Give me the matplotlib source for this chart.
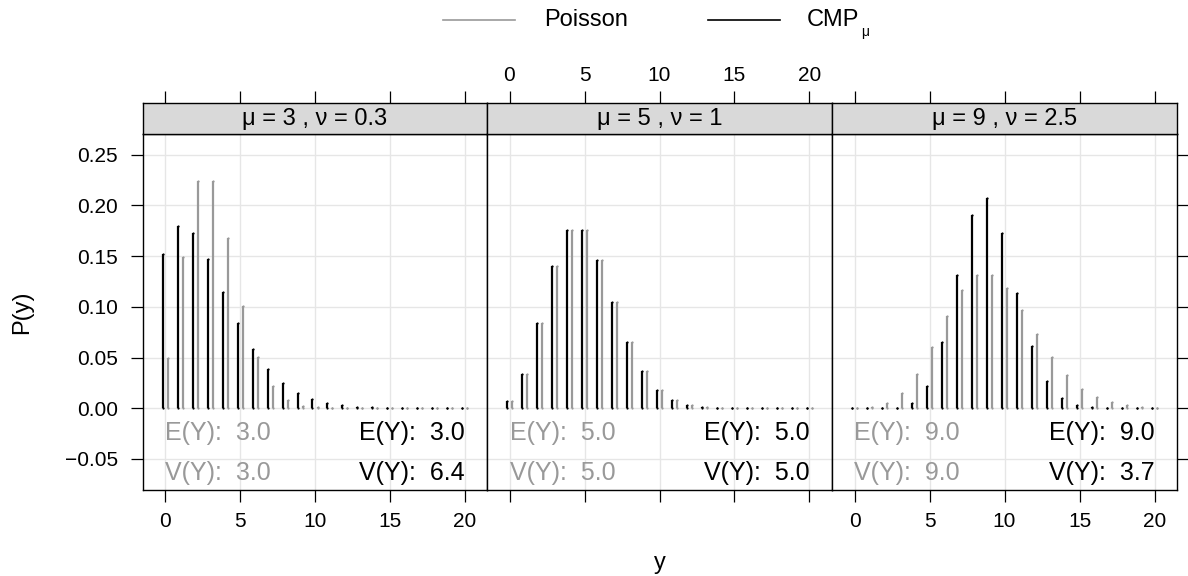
import matplotlib
matplotlib.use("Agg")
import matplotlib.pyplot as plt
from matplotlib.lines import Line2D

plt.rcParams["font.family"] = ["Liberation Sans", "DejaVu Sans"]

# support of the distributions
counts = list(range(21))

panel_titles = ["\u03bc = 3 , \u03bd = 0.3", "\u03bc = 5 , \u03bd = 1", "\u03bc = 9 , \u03bd = 2.5"]

poisson_probs = [
    [0.0498, 0.1494, 0.2240, 0.2240, 0.1680, 0.1008, 0.0504, 0.0216, 0.0081, 0.0027,
     0.0008, 0.0002, 0.00006, 0.00002, 0.00001, 0.00001, 0.00001, 0.00001, 0.00001, 0.00001, 0.00001],
    [0.0067, 0.0337, 0.0842, 0.1404, 0.1755, 0.1755, 0.1462, 0.1044, 0.0653, 0.0363,
     0.0181, 0.0082, 0.0034, 0.0013, 0.0005, 0.0002, 0.00005, 0.00002, 0.00001, 0.00001, 0.00001],
    [0.0001, 0.0011, 0.0050, 0.0150, 0.0337, 0.0607, 0.0911, 0.1171, 0.1318, 0.1318,
     0.1186, 0.0970, 0.0728, 0.0504, 0.0324, 0.0194, 0.0109, 0.0058, 0.0029, 0.0014, 0.0006],
]

cmp_probs = [
    [0.152, 0.180, 0.173, 0.147, 0.115, 0.084, 0.058, 0.039, 0.025, 0.015,
     0.009, 0.0055, 0.0031, 0.0017, 0.0009, 0.0005, 0.0003, 0.0001, 0.0001, 0.00003, 0.00002],
    [0.0067, 0.0337, 0.0842, 0.1404, 0.1755, 0.1755, 0.1462, 0.1044, 0.0653, 0.0363,
     0.0181, 0.0082, 0.0034, 0.0013, 0.0005, 0.0002, 0.00005, 0.00002, 0.00001, 0.00001, 0.00001],
    [0.00001, 0.00001, 0.00001, 0.0002, 0.005, 0.022, 0.065, 0.131, 0.191, 0.207,
     0.173, 0.114, 0.061, 0.027, 0.010, 0.0033, 0.001, 0.0003, 0.0001, 0.00002, 0.00001],
]

poisson_mean = ["3.0", "5.0", "9.0"]
poisson_var = ["3.0", "5.0", "9.0"]
cmp_mean = ["3.0", "5.0", "9.0"]
cmp_var = ["6.4", "5.0", "3.7"]

GRAY = "#999999"
GRID = "#e6e6e6"
STRIP = "#d9d9d9"
BAR_LW = 1.6

W, H = 1188, 576
fig = plt.figure(figsize=(W / 100, H / 100), dpi=100)

panel_x = [143, 487, 832, 1177]
top_strip, bot_strip, bot_panel = 103, 134, 490

xlim = (-1.5, 21.5)
ylim = (-0.0806, 0.2705)
xticks = [0, 5, 10, 15, 20]
yticks = [-0.05, 0.0, 0.05, 0.10, 0.15, 0.20, 0.25]
tick_len = 8.6


def draw_bars(ax, xs, ys, color, z):
    ax.vlines(xs, 0, ys, color=color, lw=BAR_LW, zorder=z)
    # round line ends, as R draws them (tiny probabilities show as dots)
    ax.plot(xs, [0] * len(xs), "o", ms=BAR_LW, color=color, mec="none", zorder=z)
    ax.plot(xs, ys, "o", ms=BAR_LW, color=color, mec="none", zorder=z)


for i in range(3):
    left = panel_x[i] / W
    width = (panel_x[i + 1] - panel_x[i]) / W
    ax = fig.add_axes([left, 1 - bot_panel / H, width, (bot_panel - bot_strip) / H])
    sx = fig.add_axes([left, 1 - bot_strip / H, width, (bot_strip - top_strip) / H])

    ax.set_xlim(*xlim)
    ax.set_ylim(*ylim)
    for v in xticks:
        ax.axvline(v, color=GRID, lw=1, zorder=0)
    for v in yticks:
        ax.axhline(v, color=GRID, lw=1, zorder=0)

    draw_bars(ax, [c + 0.17 for c in counts], poisson_probs[i], GRAY, 2)
    draw_bars(ax, [c - 0.17 for c in counts], cmp_probs[i], "black", 3)

    ax.text(0, -0.024, "E(Y):  " + poisson_mean[i], color=GRAY, fontsize=18,
            ha="left", va="center")
    ax.text(0, -0.0635, "V(Y):  " + poisson_var[i], color=GRAY, fontsize=18,
            ha="left", va="center")
    ax.text(20, -0.024, "E(Y):  " + cmp_mean[i], color="black", fontsize=18,
            ha="right", va="center")
    ax.text(20, -0.0635, "V(Y):  " + cmp_var[i], color="black", fontsize=18,
            ha="right", va="center")

    for sp in ax.spines.values():
        sp.set_linewidth(1.0)

    ax.set_xticks(xticks)
    ax.tick_params(axis="x", direction="out", length=tick_len, width=0.9,
                   labelsize=15, pad=7, labelbottom=(i != 1))
    ax.set_yticks(yticks)
    ax.set_yticklabels([f"{v:.2f}".replace("-", "\u2212") for v in yticks])
    ax.tick_params(axis="y", direction="out", length=tick_len, width=0.9,
                   labelsize=15, pad=9.5,
                   left=(i == 0), labelleft=(i == 0), right=(i == 2), labelright=False)

    # strip with panel title and top ticks
    sx.set_facecolor(STRIP)
    sx.set_xlim(*xlim)
    sx.set_ylim(0, 1)
    sx.set_yticks([])
    sx.set_xticks(xticks)
    sx.tick_params(axis="x", direction="out", length=tick_len, width=0.9,
                   labelsize=15, pad=4.5, bottom=False, labelbottom=False,
                   top=True, labeltop=(i == 1))
    for sp in sx.spines.values():
        sp.set_linewidth(1.0)
    sx.text(0.5, 0.5, panel_titles[i], transform=sx.transAxes, fontsize=17,
            ha="center", va="center")

# legend
ly = 1 - 20 / H
fig.add_artist(Line2D([443 / W, 515 / W], [ly, ly], color=GRAY, lw=1.2))
fig.text(544 / W, ly, "Poisson", fontsize=17, ha="left", va="center")
fig.add_artist(Line2D([708 / W, 780 / W], [ly, ly], color="black", lw=1.2))
fig.text(807 / W, ly, "CMP", fontsize=17, ha="left", va="center")
fig.text(861 / W, ly - 12 / H, "\u03bc", fontsize=10, ha="left", va="center")

# axis labels
fig.text(660 / W, 1 - 563 / H, "y", fontsize=17, ha="center", va="center")
fig.text(22 / W, 1 - 312 / H, "P(y)", fontsize=17, ha="center", va="center", rotation=90)

fig.savefig("out.png", dpi=100)
